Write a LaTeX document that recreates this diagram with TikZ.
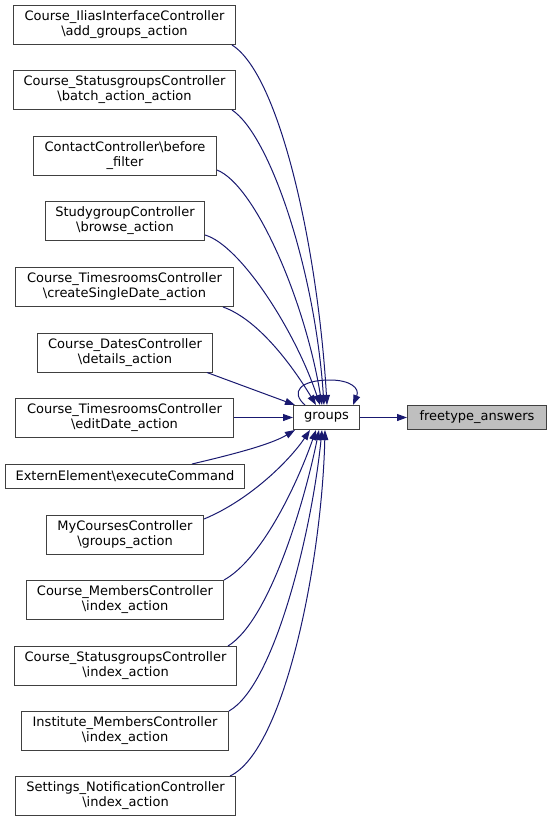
\documentclass[tikz,border=0pt]{standalone}
\usepackage{fontspec}
\setmainfont{DejaVu Sans}
\usetikzlibrary{arrows.meta}
\definecolor{edgeblue}{HTML}{191970}
\definecolor{boxline}{HTML}{404040}
\definecolor{hlfill}{HTML}{BFBFBF}
\begin{document}
\begin{tikzpicture}[x=1pt,y=-1pt,
  box/.style={draw=boxline,line width=1pt,fill=white,inner sep=0pt,align=center,
    font=\fontsize{13}{15}\selectfont,minimum height=39pt},
  onebox/.style={box,minimum height=24pt},
  edge/.style={draw=edgeblue,line width=1pt,-{Triangle[length=10pt,width=7pt]}}]
\useasboundingbox (0,0) rectangle (552,823);
\node[box,minimum width=222pt] (b1) at (124.5,25) {Course\_IliasInterfaceController\\\textbackslash add\_groups\_action};
\node[box,minimum width=222pt] (b2) at (124.5,90) {Course\_StatusgroupsController\\\textbackslash batch\_action\_action};
\node[box,minimum width=183pt] (b3) at (125,156) {ContactController\textbackslash before\\\_filter};
\node[box,minimum width=159pt] (b4) at (125,221) {StudygroupController\\\textbackslash browse\_action};
\node[box,minimum width=218pt] (b5) at (124.5,287) {Course\_TimesroomsController\\\textbackslash createSingleDate\_action};
\node[box,minimum width=175pt] (b6) at (125,352.5) {Course\_DatesController\\\textbackslash details\_action};
\node[box,minimum width=218pt] (b7) at (124.5,417.5) {Course\_TimesroomsController\\\textbackslash editDate\_action};
\node[onebox,minimum width=239pt] (b8) at (125,476.5) {ExternElement\textbackslash executeCommand};
\node[box,minimum width=157pt] (b9) at (125,535) {MyCoursesController\\\textbackslash groups\_action};
\node[box,minimum width=197pt] (b10) at (125,600) {Course\_MembersController\\\textbackslash index\_action};
\node[box,minimum width=222pt] (b11) at (125.5,666) {Course\_StatusgroupsController\\\textbackslash index\_action};
\node[box,minimum width=207pt] (b12) at (125,731) {Institute\_MembersController\\\textbackslash index\_action};
\node[box,minimum width=220pt] (b13) at (125.5,796) {Settings\_NotificationController\\\textbackslash index\_action};
\node[onebox,minimum width=66pt] (g) at (326.5,417.5) {groups};
\node[onebox,minimum width=139pt,fill=hlfill] (f) at (477,417.5) {freetype\_answers};
% incoming edges from above
\draw[edge] ([xshift=-4pt]b1.south east) .. controls (280,75) and (318,250) .. ([xshift=0.5pt]g.north);
\draw[edge] ([xshift=-4pt]b2.south east) .. controls (270,135) and (315,270) .. ([xshift=-2.5pt]g.north);
\draw[edge] ([yshift=6pt]b3.south east) .. controls (255,185) and (305,300) .. ([xshift=-4.5pt]g.north);
\draw[edge] ([yshift=6pt]b4.south east) .. controls (240,245) and (295,330) .. ([xshift=-6.5pt]g.north);
\draw[edge] ([xshift=-11pt]b5.south east) .. controls (260,320) and (295,370) .. ([xshift=-10.5pt]g.north);
\draw[edge] ([xshift=-6pt]b6.south east) -- ([xshift=2pt]g.north west);
\draw[edge] (b7.east) -- (g.west);
% incoming edges from below
\draw[edge] ([xshift=-53pt]b8.north east) .. controls (230,455) and (270,445) .. ([xshift=2pt]g.south west);
\draw[edge] ([yshift=-4pt]b9.north east) .. controls (250,500) and (290,460) .. ([xshift=-16.5pt]g.south);
\draw[edge] (b10.north east) .. controls (260,560) and (295,490) .. ([xshift=-10.5pt]g.south);
\draw[edge] ([xshift=-9pt]b11.north east) .. controls (270,620) and (305,500) .. ([xshift=-7.5pt]g.south);
\draw[edge] (b12.north east) .. controls (275,685) and (312,530) .. ([xshift=-4.5pt]g.south);
\draw[edge] ([xshift=-6pt]b13.north east) .. controls (285,750) and (322,560) .. ([xshift=-1.5pt]g.south);
% self loop
\draw[edge] ([xshift=12pt]g.north west) .. controls (290,392) and (300,380) .. (330,380) .. controls (350,380) and (360,388) .. ([xshift=-7pt]g.north east);
% outgoing edge
\draw[edge] (g.east) -- (f.west);
\end{tikzpicture}
\end{document}
